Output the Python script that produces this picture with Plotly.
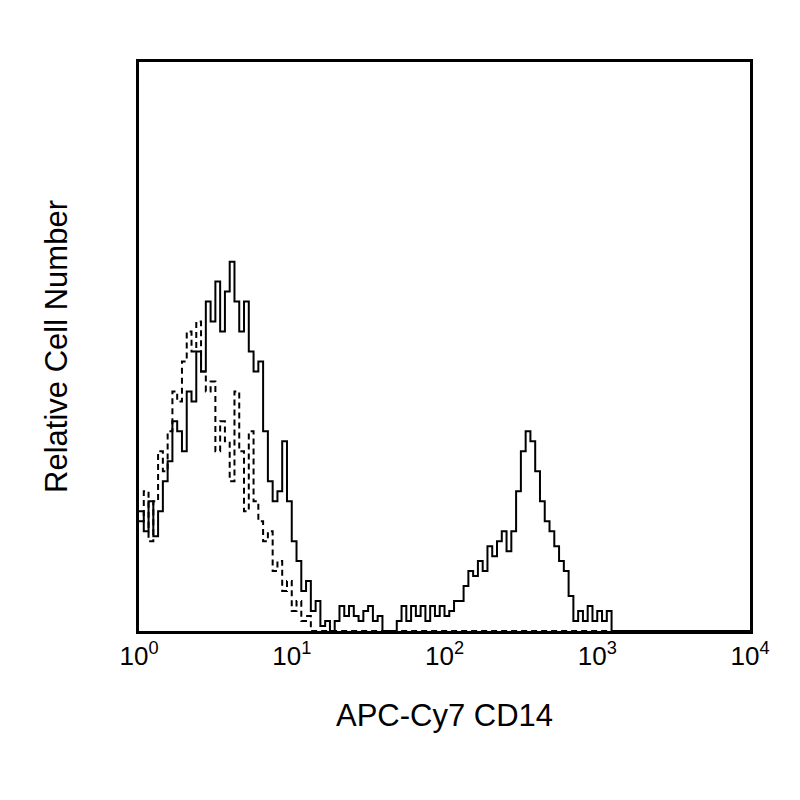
import numpy as np
import plotly.graph_objects as go

# 32 log-spaced channels per decade, 10^0 .. 10^4
bins_per_decade = 32
n_bins = 4 * bins_per_decade
edges = 10 ** (np.arange(n_bins + 1) / bins_per_decade)

stained = [120, 100, 130, 95, 120, 150, 170, 210, 200, 180, 240, 230, 280, 260, 330, 310,
           350, 300, 340, 370, 330, 300, 330, 280, 260, 270, 200, 150, 130, 140, 190, 130,
           90, 70, 40, 50, 20, 30, 5, 10, 0, 10, 25, 15, 25, 15, 10, 20,
           25, 10, 15, 0, 0, 0, 10, 25, 10, 25, 15, 25, 10, 25, 15, 25,
           15, 20, 30, 30, 45, 60, 55, 70, 60, 85, 75, 90, 100, 80, 100, 140,
           180, 200, 190, 160, 130, 110, 100, 85, 70, 60, 35, 10, 20, 10, 25, 10,
           20, 10, 20]
isotype = [110, 140, 90, 130, 180, 160, 200, 240, 230, 270, 300, 280, 310, 260, 240, 250,
           180, 210, 190, 150, 240, 180, 120, 200, 130, 110, 90, 100, 60, 70, 40, 50,
           20, 30, 10, 15]

stained = stained + [0] * (n_bins - len(stained))
isotype = isotype + [0] * (n_bins - len(isotype))

fig = go.Figure()
fig.add_trace(go.Scatter(x=edges, y=isotype + [isotype[-1]], mode="lines", line_shape="hv",
                         line=dict(color="black", width=2, dash="6px,4px")))
fig.add_trace(go.Scatter(x=edges, y=stained + [stained[-1]], mode="lines", line_shape="hv",
                         line=dict(color="black", width=2)))

fig.update_layout(
    width=800, height=800, showlegend=False,
    plot_bgcolor="white", paper_bgcolor="white",
    margin=dict(l=131, r=58, t=54, b=177),
    font=dict(family="Liberation Sans, Arial", size=26, color="black"),
)
fig.update_xaxes(type="log", range=[0, 4], tickvals=[1, 10, 100, 1000, 10000],
                 ticktext=["10<sup>0</sup>", "10<sup>1</sup>", "10<sup>2</sup>", "10<sup>3</sup>", "10<sup>4</sup>"],
                 tickfont=dict(size=26), showgrid=False, zeroline=False, showline=True,
                 linecolor="black", linewidth=3, mirror=True, ticks="",
                 title=dict(text="APC-Cy7 CD14", standoff=35))
fig.update_yaxes(range=[0, 570], showticklabels=False, showgrid=False, zeroline=False,
                 showline=True, linecolor="black", linewidth=3, mirror=True, ticks="",
                 title=dict(text="Relative Cell Number", standoff=60))

fig.write_html("out.html")
